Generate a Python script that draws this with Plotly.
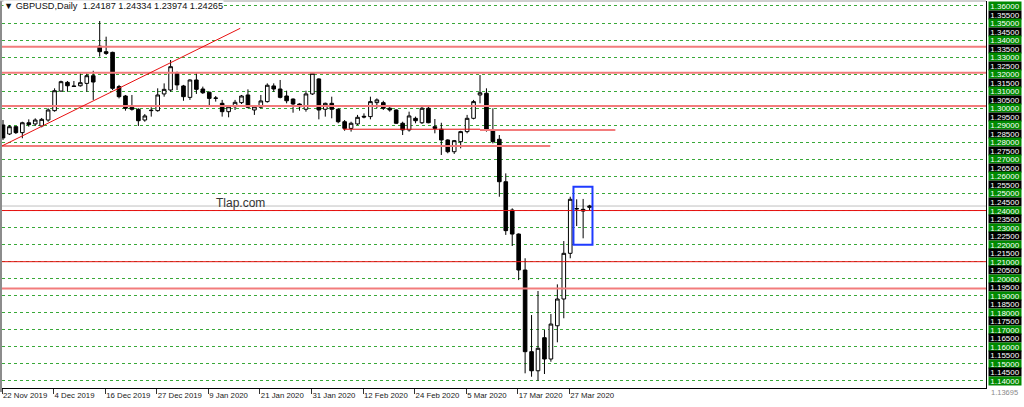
import plotly.graph_objects as go
import pandas as pd

# ---- categories (daily trading bars, 25 Dec and 1 Jan not traded) ----
dates = [d for d in pd.bdate_range("2019-11-22", "2020-04-01")
         if d.strftime("%m-%d") not in ("12-25", "01-01")]

tick_labels = ["22 Nov 2019", "4 Dec 2019", "16 Dec 2019", "27 Dec 2019", "9 Jan 2020",
               "21 Jan 2020", "31 Jan 2020", "12 Feb 2020", "24 Feb 2020", "5 Mar 2020",
               "17 Mar 2020", "27 Mar 2020"]

# ---- OHLC series (GBPUSD daily) ----
opens = [1.2902, 1.2849, 1.2892, 1.2857, 1.2915, 1.2908, 1.2896, 1.2931, 1.2986, 1.3101,
         1.3152, 1.3131, 1.3132, 1.3146, 1.3191, 1.3365, 1.3332, 1.3328, 1.3127, 1.3072,
         1.3006, 1.2994, 1.2931, 1.2986, 1.2986, 1.3084, 1.3107, 1.3205, 1.3131, 1.3064,
         1.3166, 1.3113, 1.3094, 1.3058, 1.3029, 1.2980, 1.3009, 1.3033, 1.3078, 1.2990,
         1.3006, 1.3039, 1.3131, 1.3113, 1.3072, 1.3054, 1.3025, 1.2994, 1.3084, 1.3172,
         1.2994, 1.3029, 1.2994, 1.2921, 1.2882, 1.2908, 1.2953, 1.2951, 1.3033, 1.3033,
         1.3000, 1.2990, 1.2912, 1.2873, 1.2941, 1.2915, 1.3000, 1.2892, 1.2877, 1.2814,
         1.2745, 1.2804, 1.2863, 1.2941, 1.3078, 1.3088, 1.2873, 1.2818, 1.2569, 1.2403,
         1.2262, 1.2051, 1.1572, 1.1460, 1.1654, 1.1529, 1.1724, 1.1881, 1.2149, 1.2412,
         1.2407, 1.24187]
highs = [1.2931, 1.2902, 1.2896, 1.2921, 1.2935, 1.2941, 1.2943, 1.3000, 1.3117, 1.3162,
         1.3160, 1.3160, 1.3205, 1.3205, 1.3220, 1.3512, 1.3420, 1.3332, 1.3137, 1.3078,
         1.3078, 1.3000, 1.2966, 1.3006, 1.3117, 1.3146, 1.3283, 1.3215, 1.3137, 1.3170,
         1.3205, 1.3127, 1.3097, 1.3072, 1.3049, 1.3019, 1.3049, 1.3078, 1.3111, 1.3013,
         1.3078, 1.3146, 1.3146, 1.3166, 1.3103, 1.3058, 1.3029, 1.3103, 1.3209, 1.3176,
         1.3033, 1.3068, 1.3000, 1.2931, 1.2921, 1.2961, 1.2970, 1.3068, 1.3058, 1.3044,
         1.3009, 1.2994, 1.2921, 1.2980, 1.2951, 1.3009, 1.3009, 1.2937, 1.2915, 1.2818,
         1.2814, 1.2868, 1.2961, 1.3049, 1.3195, 1.3117, 1.3000, 1.2843, 1.2618, 1.2413,
         1.2266, 1.2120, 1.1787, 1.1928, 1.1699, 1.1793, 1.1967, 1.2221, 1.2481, 1.2466,
         1.2468, 1.24334]
lows = [1.2814, 1.2843, 1.2849, 1.2824, 1.2892, 1.2896, 1.2888, 1.2921, 1.2980, 1.3097,
        1.3097, 1.3127, 1.3127, 1.3097, 1.3049, 1.3303, 1.3313, 1.3107, 1.3058, 1.2986,
        1.2986, 1.2896, 1.2921, 1.2951, 1.2980, 1.3068, 1.3097, 1.3107, 1.3044, 1.3049,
        1.3084, 1.3084, 1.3009, 1.3039, 1.2951, 1.2947, 1.2990, 1.3025, 1.3000, 1.2961,
        1.3000, 1.3033, 1.3097, 1.3058, 1.3029, 1.2974, 1.2986, 1.2980, 1.3078, 1.2935,
        1.2951, 1.2941, 1.2912, 1.2868, 1.2863, 1.2902, 1.2941, 1.2935, 1.3000, 1.2990,
        1.2980, 1.2908, 1.2843, 1.2863, 1.2912, 1.2908, 1.2912, 1.2853, 1.2726, 1.2736,
        1.2732, 1.2765, 1.2853, 1.2935, 1.3029, 1.2863, 1.2794, 1.2481, 1.2257, 1.2192,
        1.1992, 1.1445, 1.1425, 1.1402, 1.1441, 1.1513, 1.1627, 1.1768, 1.2120, 1.2309,
        1.2237, 1.23974]
closes = [1.2826, 1.2892, 1.2857, 1.2915, 1.2904, 1.2931, 1.2935, 1.2990, 1.3103, 1.3156,
          1.3132, 1.3128, 1.3150, 1.3191, 1.3154, 1.3332, 1.3322, 1.3117, 1.3068, 1.3000,
          1.2994, 1.2927, 1.2955, 1.2988, 1.3078, 1.3111, 1.3244, 1.3137, 1.3068, 1.3166,
          1.3111, 1.3091, 1.3058, 1.3060, 1.2980, 1.3009, 1.3035, 1.3072, 1.3006, 1.3009,
          1.3043, 1.3135, 1.3113, 1.3064, 1.3044, 1.3025, 1.3009, 1.3084, 1.3205, 1.2990,
          1.3029, 1.2994, 1.2921, 1.2882, 1.2912, 1.2947, 1.2949, 1.3039, 1.3049, 1.3000,
          1.2990, 1.2912, 1.2873, 1.2955, 1.2927, 1.3000, 1.2915, 1.2882, 1.2814, 1.2745,
          1.2810, 1.2863, 1.2941, 1.3039, 1.3091, 1.2873, 1.2804, 1.2569, 1.2282, 1.2262,
          1.2051, 1.1572, 1.1460, 1.1592, 1.1529, 1.1734, 1.1881, 1.2149, 1.2466, 1.2410,
          1.2397, 1.24265]

# ---- price scale labels ----
price_labels = ["1.36000", "1.35500", "1.35000", "1.34500", "1.34000", "1.33500", "1.33000",
                "1.32500", "1.32000", "1.31500", "1.31000", "1.30500", "1.30000", "1.29500",
                "1.29000", "1.28500", "1.28000", "1.27500", "1.27000", "1.26500", "1.26000",
                "1.25500", "1.25000", "1.24500", "1.24000", "1.23500", "1.23000", "1.22500",
                "1.22000", "1.21500", "1.21000", "1.20500", "1.20000", "1.19500", "1.19000",
                "1.18500", "1.18000", "1.17500", "1.17000", "1.16500", "1.16000", "1.15500",
                "1.15000", "1.14500", "1.14000"]
chart_low = 1.13695
header = "\u25bc GBPUSD,Daily  1.24187 1.24334 1.23974 1.24265"

# drawn objects (price levels)
thick_levels = [1.3361, 1.3209, 1.3013, 1.1942]
thin_levels = [1.2400, 1.2100]
bid_level = 1.24265

FONT = "Liberation Sans, Arial, sans-serif"
x = list(range(len(dates)))
date_index = {d: i for i, d in enumerate(dates)}
tick_pos = [date_index[pd.Timestamp(t)] - 0.15 for t in tick_labels]
grid_levels = [float(s) for s in price_labels if s.endswith("000")]

fig = go.Figure(go.Candlestick(
    x=x, open=opens, high=highs, low=lows, close=closes,
    increasing=dict(line=dict(color="black", width=1), fillcolor="white"),
    decreasing=dict(line=dict(color="black", width=1), fillcolor="black"),
    whiskerwidth=0, hoverinfo="skip"))

shapes = []
PINK = "#F27C7C"
RED = "#E81010"
for lv in thick_levels:
    shapes.append(dict(type="line", xref="paper", yref="y", x0=0, x1=1, y0=lv, y1=lv,
                       line=dict(color=PINK, width=2)))
for lv in thin_levels:
    shapes.append(dict(type="line", xref="paper", yref="y", x0=0, x1=1, y0=lv, y1=lv,
                       line=dict(color=RED, width=1)))
shapes.append(dict(type="line", xref="paper", yref="y", x0=0, x1=1, y0=bid_level, y1=bid_level,
                   line=dict(color="#C0C0C0", width=1), layer="below"))
# partial levels
shapes.append(dict(type="line", xref="x", yref="y", x0=-0.2, x1=84.9, y0=1.2779, y1=1.2779,
                   line=dict(color=PINK, width=2)))
shapes.append(dict(type="line", xref="x", yref="y", x0=52.75, x1=74.0, y0=1.2877, y1=1.2877,
                   line=dict(color=RED, width=1)))
shapes.append(dict(type="line", xref="x", yref="y", x0=74.0, x1=95.0, y0=1.2873, y1=1.2873,
                   line=dict(color=PINK, width=2)))
# trend line
shapes.append(dict(type="line", xref="x", yref="y", x0=-0.15, x1=36.8, y0=1.2779, y1=1.3469,
                   line=dict(color=RED, width=1)))
# blue box
shapes.append(dict(type="rect", xref="x", yref="y", x0=88.5, x1=91.45, y0=1.2200, y1=1.2540,
                   line=dict(color="#1F3BFF", width=2)))
# frame
shapes.append(dict(type="rect", xref="paper", yref="paper", x0=-2 / 984, x1=0, y0=-4 / 388, y1=1,
                   line=dict(width=0), fillcolor="#8C8C8C"))
shapes.append(dict(type="line", xref="paper", yref="paper", x0=-2 / 984, x1=1, y0=1, y1=1,
                   line=dict(color="#A0A0A0", width=1)))

annotations = []
for s in price_labels:
    v = float(s)
    green = s.endswith("000")
    annotations.append(dict(xref="paper", yref="y", x=(1005 - 2) / 984, y=v, text=s,
                            showarrow=False, xanchor="center", yanchor="middle",
                            width=32, height=8, borderpad=0,
                            bgcolor="#008A00" if green else "#000000",
                            font=dict(family=FONT, size=8, color="white")))
annotations.append(dict(xref="paper", yref="y", x=(989 - 2) / 984, y=chart_low, text=f"{chart_low:.5f}",
                        showarrow=False, xanchor="left", yanchor="top",
                        font=dict(family=FONT, size=7.5, color="#8A8A8A")))
annotations.append(dict(xref="paper", yref="y", x=1 / 984, y=1.3600, text=header,
                        showarrow=False, xanchor="left", yanchor="middle", bgcolor="white",
                        borderpad=0, font=dict(family=FONT, size=9.2, color="#111111")))
annotations.append(dict(xref="x", yref="y", x=36.9, y=1.2444, text="Tlap.com",
                        showarrow=False, xanchor="center", yanchor="middle",
                        font=dict(family=FONT, size=12, color="#333333")))

fig.update_layout(
    width=1024, height=407,
    margin=dict(l=2, r=38, t=1, b=19),
    paper_bgcolor="white", plot_bgcolor="white",
    showlegend=False, boxgap=0.3, boxgroupgap=0.2,
    shapes=shapes, annotations=annotations,
    xaxis=dict(range=[-0.155, 152.5], rangeslider=dict(visible=False), showgrid=False,
               zeroline=False, showline=True, linecolor="black", linewidth=1,
               tickmode="array", tickvals=tick_pos, ticktext=tick_labels, tickangle=0,
               ticks="outside", ticklen=5, tickcolor="#333333", tickwidth=1,
               ticklabelposition="outside right",
               tickfont=dict(family=FONT, size=7.8, color="#202020")),
    yaxis=dict(side="right", range=[1.13589, 1.36293], tickmode="array", tickvals=grid_levels,
               showticklabels=False, ticks="", showgrid=True, gridcolor="#38A838",
               griddash="3px,3px", gridwidth=1, zeroline=False, showline=True,
               linecolor="black", linewidth=1),
)

fig.write_html("out.html", config={"displayModeBar": False},
               post_script="document.body.style.margin='0';document.body.style.overflow='hidden';")
